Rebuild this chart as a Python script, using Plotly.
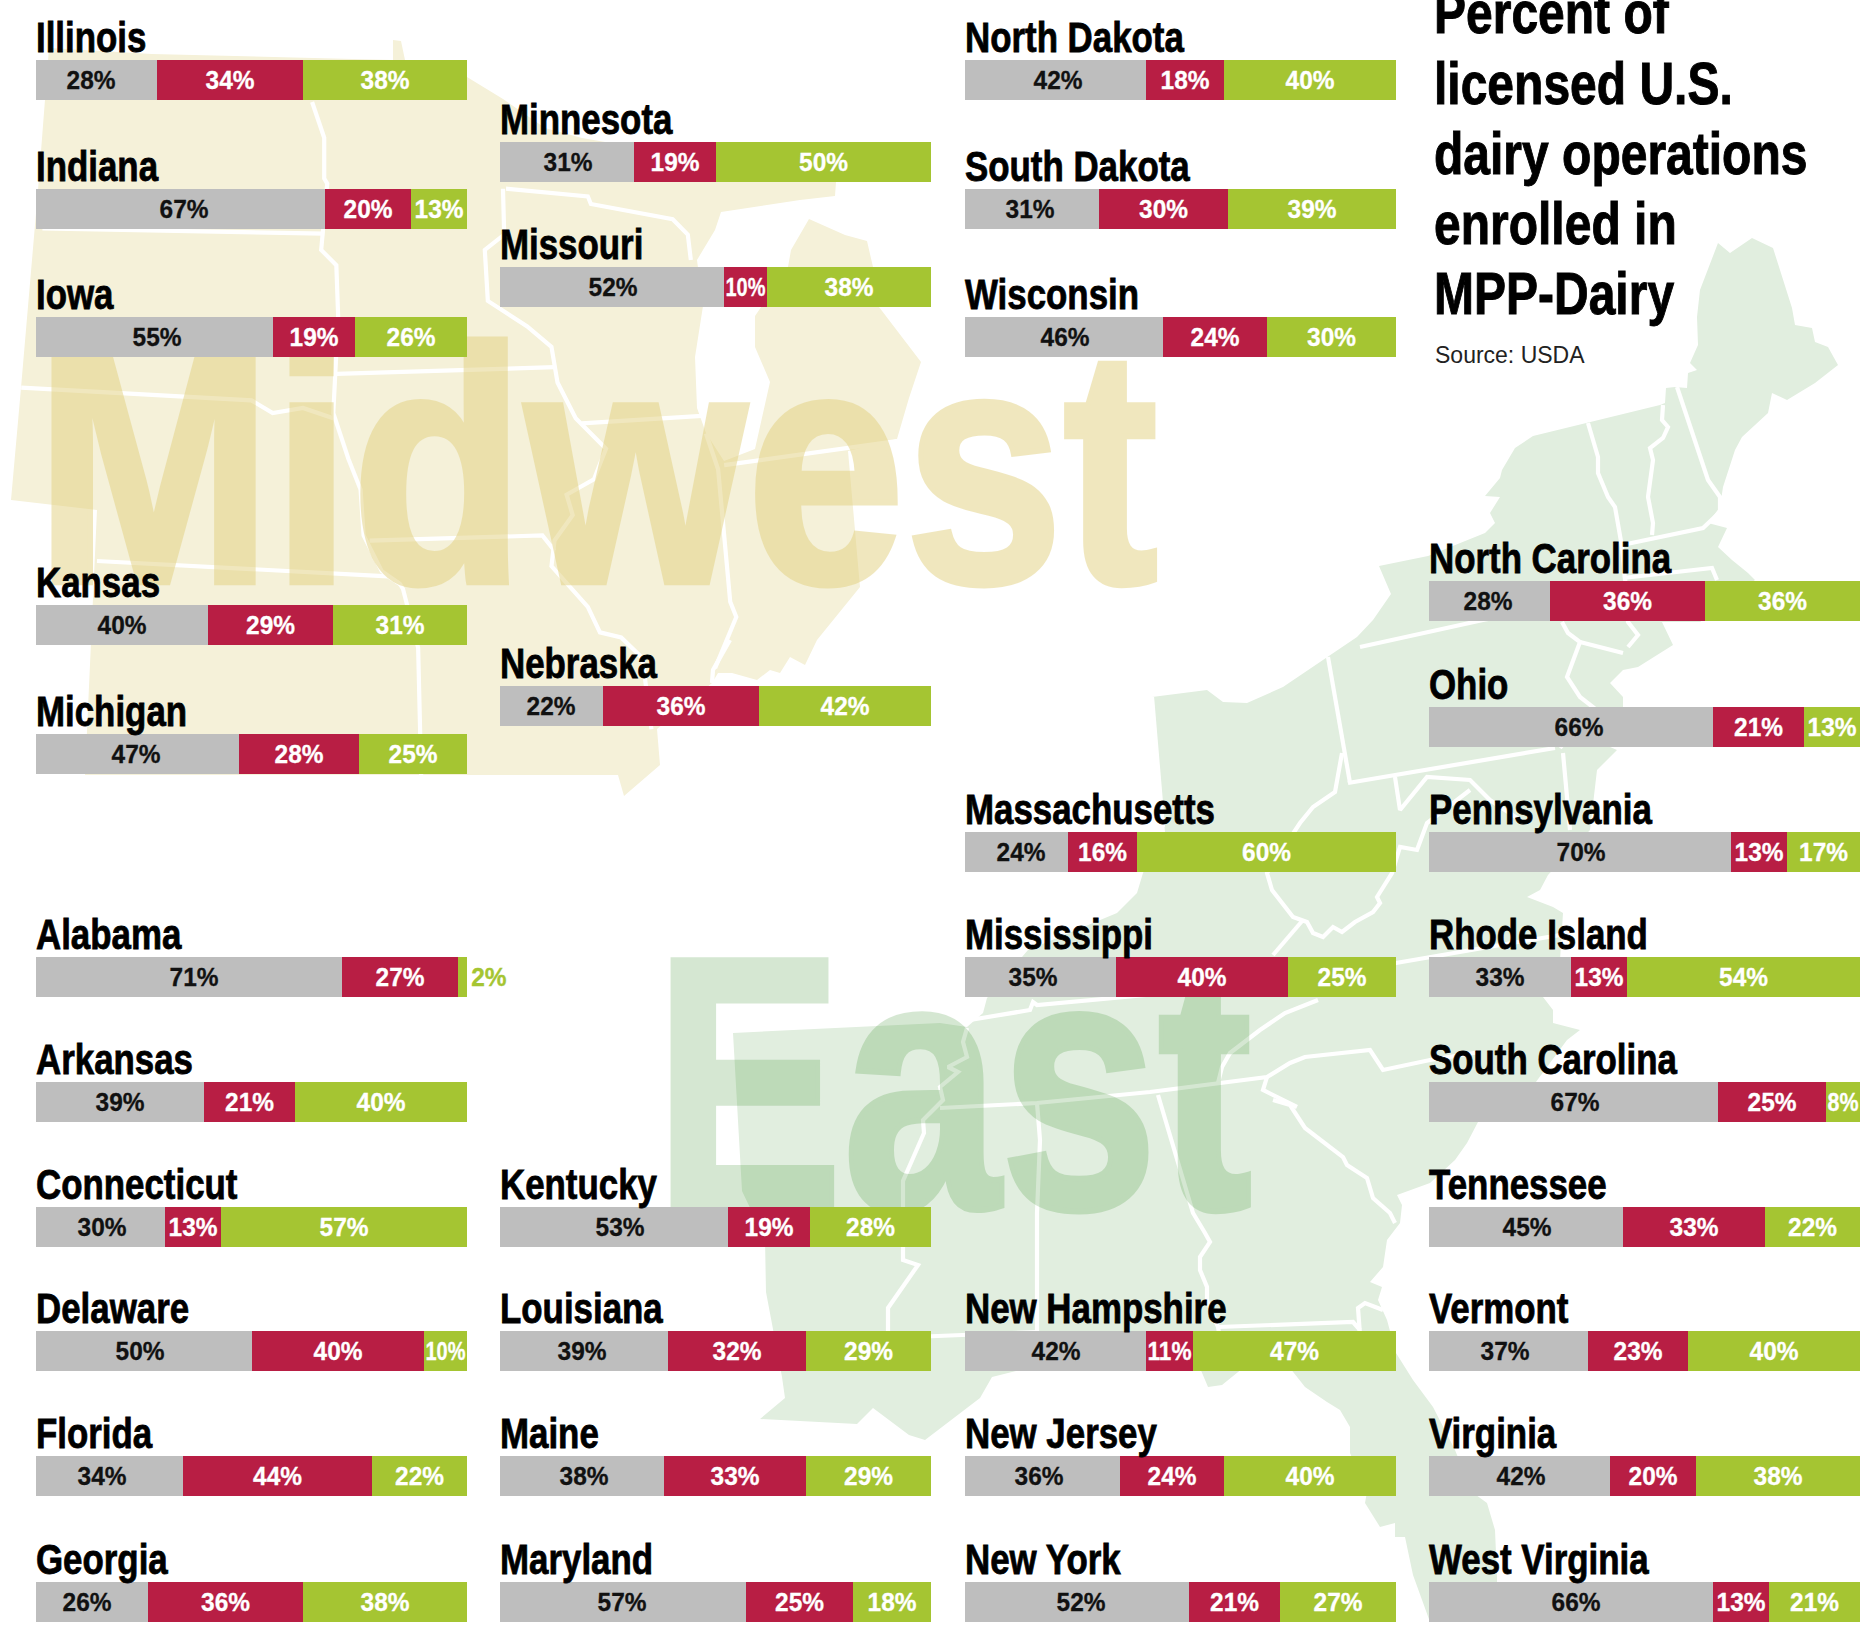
import plotly.graph_objects as go

W, H = 1875, 1629
SANS = "Liberation Sans"

# ---- data -------------------------------------------------------------
states = ["Illinois", "Indiana", "Iowa", "Kansas", "Michigan",
          "Minnesota", "Missouri", "Nebraska",
          "North Dakota", "South Dakota", "Wisconsin",
          "Alabama", "Arkansas", "Connecticut", "Delaware", "Florida", "Georgia",
          "Kentucky", "Louisiana", "Maine", "Maryland",
          "Massachusetts", "Mississippi", "New Hampshire", "New Jersey", "New York",
          "North Carolina", "Ohio", "Pennsylvania", "Rhode Island", "South Carolina",
          "Tennessee", "Vermont", "Virginia", "West Virginia"]
grey_share = [28, 67, 55, 40, 47,
              31, 52, 22,
              42, 31, 46,
              71, 39, 30, 50, 34, 26,
              53, 39, 38, 57,
              24, 35, 42, 36, 52,
              28, 66, 70, 33, 67,
              45, 37, 42, 66]
red_share = [34, 20, 19, 29, 28,
             19, 10, 36,
             18, 30, 24,
             27, 21, 13, 40, 44, 36,
             19, 32, 33, 25,
             16, 40, 11, 24, 21,
             36, 21, 13, 13, 25,
             33, 23, 20, 13]
green_share = [38, 13, 26, 31, 25,
               50, 38, 42,
               40, 39, 30,
               2, 40, 57, 10, 22, 38,
               28, 29, 29, 18,
               60, 25, 47, 40, 27,
               36, 13, 17, 54, 8,
               22, 40, 38, 21]
# Nebraska's bar is drawn a little off its printed figures in the source
drawn_override = {"Nebraska": (24, 36, 40)}
title_lines = ["Percent of", "licensed U.S.", "dairy operations", "enrolled in", "MPP-Dairy"]
source_note = "Source: USDA"

# ---- layout of the small bars (left pixel, top pixel) -------------------
COL = [36, 500, 965, 1429]
BAR_W, BAR_H = 431, 40
slots = [(0, 60), (0, 189), (0, 317), (0, 605), (0, 734),
         (1, 142), (1, 267), (1, 686),
         (2, 60), (2, 189), (2, 317),
         (0, 957), (0, 1082), (0, 1207), (0, 1331), (0, 1456), (0, 1582),
         (1, 1207), (1, 1331), (1, 1456), (1, 1582),
         (2, 832), (2, 957), (2, 1331), (2, 1456), (2, 1582),
         (3, 581), (3, 707), (3, 832), (3, 957), (3, 1082),
         (3, 1207), (3, 1331), (3, 1456), (3, 1582)]
# the grey figures sit off the centre of their segment in the source (pixels)
grey_label_dx = [-5, 4, 2, 0, -1,
                 1, 1, -1,
                 2, -2, 1,
                 5, 0, 1, -4, -7, -5,
                 6, -2, 2, -1,
                 4, -7, 0, -4, 4,
                 -1, 8, 1, 0, 2,
                 1, -4, 1, 5]

GREY, RED, GREEN = "#bebebe", "#b81e44", "#a5c532"
MW_FILL, EA_FILL = "#f5f1d9", "#e1eedf"
MW_WORD, EA_WORD = "rgb(227,209,127)", "rgb(50,140,35)"
NAME_SIZE, LABEL_SIZE, TITLE_SIZE = 42, 26, 60

# ---- backdrop map (decorative, traced in page pixels) -------------------
def zm(points):
    """Convert points read in the 1568-square zoom of the top-left crop."""
    return [(x * 0.606, y * 0.51) for x, y in points]

midwest_outline = [(49, 48), (152, 54), (393, 60), (393, 40), (401, 41), (405, 60), (467, 77), (503, 99),
                   (545, 128), (582, 138), (836, 182), (835, 196), (800, 200), (721, 212), (715, 230),
                   (697, 260), (703, 306), (695, 357), (697, 408), (706, 433), (724, 461), (755, 449),
                   (770, 382), (755, 347), (755, 316), (788, 267), (791, 250), (809, 219), (845, 235),
                   (867, 241), (873, 267), (879, 307), (921, 362), (909, 398), (897, 439), (848, 451),
                   (860, 587), (817, 640), (805, 665), (790, 657), (780, 673), (770, 670), (757, 680),
                   (732, 673), (718, 673), (712, 683), (657, 729), (660, 765), (624, 796), (618, 775),
                   (470, 775), (85, 775), (97, 510), (11, 500), (21, 388), (38, 190), (49, 48)]
midwest_lines = [zm(p) for p in [
    [(70, 448), (535, 458)],
    [(35, 760), (415, 785), (450, 810), (500, 800), (550, 820)],
    [(160, 1100), (640, 1130), (660, 1145)],
    [(515, 200), (535, 270), (535, 350), (540, 360), (530, 490), (555, 520), (558, 620), (555, 700),
     (550, 810), (575, 900), (595, 960), (600, 1050), (630, 1120), (660, 1145), (665, 1155), (690, 1270),
     (695, 1520)],
    [(555, 733), (915, 720)],
    [(610, 1060), (895, 1050), (915, 1080)],
    [(830, 370), (832, 460), (800, 490), (805, 590), (870, 640), (910, 680), (920, 750), (950, 820),
     (1000, 880), (980, 940), (935, 970), (945, 1010), (915, 1060), (910, 1110), (970, 1190), (990, 1240),
     (1025, 1250), (1060, 1290), (1075, 1430)],
    [(835, 370), (970, 385), (975, 400), (1110, 430), (1135, 460), (1140, 510)],
    [(960, 830), (1165, 815)],
    [(1165, 850), (1185, 920), (1205, 1180), (1215, 1210), (1180, 1310)],
    [(1195, 912), (1480, 865)],
]]
midwest_lines.append([(730, 640), (713, 670), (712, 683)])

east_outline = [(1152, 697), (1207, 690), (1223, 702), (1247, 703), (1283, 687), (1327, 657), (1357, 637),
                (1373, 620), (1391, 594), (1379, 566), (1428, 556), (1485, 533), (1495, 523), (1490, 513),
                (1500, 497), (1485, 496), (1500, 478), (1502, 470), (1515, 448), (1533, 436), (1660, 405),
                (1665, 403), (1666, 388), (1675, 387), (1687, 388), (1688, 373), (1697, 370), (1690, 363),
                (1698, 345), (1697, 317), (1700, 290), (1718, 243), (1730, 253), (1752, 238), (1773, 248),
                (1792, 308), (1795, 325), (1812, 328), (1815, 342), (1828, 347), (1838, 365), (1815, 383),
                (1787, 400), (1772, 393), (1768, 413), (1742, 437), (1735, 450), (1723, 487), (1720, 507),
                (1708, 523), (1727, 528), (1718, 547), (1732, 560), (1748, 573), (1755, 580), (1700, 622),
                (1662, 622), (1673, 645), (1638, 667), (1623, 670), (1610, 683), (1623, 697), (1623, 707),
                (1610, 747), (1617, 750), (1597, 770), (1590, 830), (1548, 875), (1540, 890), (1527, 897),
                (1553, 907), (1563, 913), (1560, 960), (1543, 997), (1553, 1010), (1553, 1023), (1580, 1030),
                (1567, 1040), (1530, 1090), (1478, 1122), (1467, 1143), (1455, 1160), (1430, 1183),
                (1397, 1195), (1402, 1205), (1400, 1223), (1387, 1240), (1383, 1267), (1370, 1282),
                (1382, 1287), (1378, 1300), (1387, 1320), (1396, 1353), (1413, 1380), (1433, 1407),
                (1455, 1450), (1472, 1492), (1487, 1503), (1495, 1530), (1497, 1577), (1497, 1622),
                (1430, 1622), (1413, 1575), (1405, 1537), (1395, 1537), (1395, 1523), (1380, 1527),
                (1365, 1503), (1367, 1492), (1350, 1453), (1350, 1427), (1340, 1410), (1327, 1402),
                (1305, 1387), (1290, 1368), (1243, 1368), (1222, 1385), (1208, 1387), (1200, 1368),
                (1100, 1365), (1040, 1365), (992, 1377), (980, 1398), (925, 1440), (909, 1435), (873, 1408),
                (857, 1424), (760, 1419), (785, 1398), (782, 1377), (766, 1292), (765, 1239), (742, 1191),
                (733, 1033), (933, 1023), (940, 1023), (967, 1027), (983, 1013), (987, 998), (1028, 950),
                (1117, 913), (1137, 893), (1143, 873), (1165, 832), (1152, 697)]
east_lines = [
    [(1328, 657), (1350, 783)],
    [(1348, 783), (1555, 748)],
    [(1342, 753), (1335, 792), (1313, 807), (1300, 823), (1267, 873), (1272, 890), (1293, 917), (1307, 922),
     (1313, 933), (1323, 937), (1333, 927), (1342, 932), (1355, 922), (1373, 912), (1380, 903), (1377, 897),
     (1392, 873), (1400, 847), (1417, 850), (1427, 823), (1470, 790)],
    [(1395, 777), (1400, 810), (1427, 777), (1470, 780), (1490, 800), (1520, 820)],
    [(1152, 697), (1163, 827)],
    [(1273, 955), (1303, 920)],
    [(1290, 990), (1396, 963), (1483, 948), (1560, 935)],
    [(1318, 1000), (1285, 1013), (1260, 1030), (1230, 1053), (1222, 1067), (1218, 1083)],
    [(940, 1108), (1037, 1103), (1150, 1092), (1267, 1077), (1290, 1063), (1305, 1057), (1370, 1050),
     (1383, 1070), (1430, 1060), (1480, 1052)],
    [(1267, 1077), (1263, 1090), (1297, 1107)],
    [(1273, 1100), (1290, 1105), (1305, 1128), (1327, 1145), (1343, 1157), (1347, 1165), (1367, 1178),
     (1373, 1198), (1390, 1213), (1395, 1223)],
    [(1037, 1103), (1040, 1140), (1037, 1213), (1037, 1335)],
    [(1158, 1095), (1193, 1213), (1205, 1233), (1210, 1242), (1200, 1257), (1200, 1270), (1207, 1287),
     (1207, 1300), (1218, 1327), (1225, 1368)],
    [(1218, 1327), (1353, 1322), (1360, 1330)],
    [(1360, 1335), (1358, 1308), (1365, 1303), (1383, 1310)],
    [(888, 1338), (1037, 1332)],
    [(970, 1020), (1030, 1010), (1033, 1002), (1037, 1005), (1200, 990), (1290, 985)],
    [(967, 1028), (963, 1042), (967, 1057), (948, 1067), (958, 1072), (940, 1087), (943, 1100), (930, 1113),
     (923, 1120), (924, 1133), (903, 1181), (903, 1260), (918, 1265), (888, 1308), (888, 1345)],
    [(1360, 647), (1483, 620), (1562, 605)],
    [(1562, 622), (1568, 633), (1580, 642), (1567, 677), (1580, 697), (1593, 707), (1575, 730), (1560, 748)],
    [(1580, 642), (1623, 653)],
    [(1625, 577), (1628, 622), (1638, 635), (1628, 647)],
    [(1588, 423), (1598, 457), (1598, 473), (1608, 497), (1615, 507), (1622, 547), (1625, 580)],
    [(1663, 405), (1662, 420), (1668, 427), (1663, 438), (1650, 448), (1653, 460), (1648, 497), (1653, 523),
     (1652, 535)],
    [(1677, 387), (1708, 480), (1720, 497), (1720, 512)],
    [(1622, 545), (1703, 528), (1720, 512)],
    [(1623, 578), (1712, 568), (1717, 580)],
    [(1563, 753), (1570, 830)],
]

fig = go.Figure()
bg = dict(xaxis="x", yaxis="y", hoverinfo="skip", showlegend=False)


def add_map(outline, lines, fill):
    fig.add_trace(go.Scatter(x=[p[0] for p in outline], y=[p[1] for p in outline], mode="lines",
                             fill="toself", fillcolor=fill, line=dict(width=0, color=fill), **bg))
    for seg in lines:
        fig.add_trace(go.Scatter(x=[p[0] for p in seg], y=[p[1] for p in seg], mode="lines",
                                 line=dict(color="white", width=4.2), **bg))


add_map(midwest_outline, midwest_lines, MW_FILL)
add_map(east_outline, east_lines, EA_FILL)


def big_word(word, x, y, size, colour, alpha):
    fig.add_trace(go.Scatter(x=[x], y=[y], mode="text", text=[word], textposition="top right", opacity=alpha,
                             textfont=dict(family=SANS, size=size, color=colour, weight="bold"),
                             cliponaxis=False, **bg))


big_word("Midwest", 35, 666, 335, MW_WORD, 0.5)
big_word("East", 654, 1298, 360, EA_WORD, 0.2)

layout = dict(
    width=W, height=H, margin=dict(l=0, r=0, t=0, b=0), paper_bgcolor="white", plot_bgcolor="rgba(0,0,0,0)",
    barmode="stack", bargap=0, showlegend=False, hovermode=False,
    xaxis=dict(domain=[0, 1], range=[0, W], visible=False, fixedrange=True),
    yaxis=dict(domain=[0, 1], range=[H, 0], visible=False, fixedrange=True),
)

annotations = []
for i, state in enumerate(states):
    n = i + 2
    col, top = slots[i]
    left = COL[col]
    layout[f"xaxis{n}"] = dict(domain=[left / W, (left + BAR_W) / W], range=[0, 100], visible=False,
                               anchor=f"y{n}", fixedrange=True)
    layout[f"yaxis{n}"] = dict(domain=[1 - (top + BAR_H) / H, 1 - top / H], range=[-0.5, 0.5], visible=False,
                               anchor=f"x{n}", fixedrange=True)
    printed = (grey_share[i], red_share[i], green_share[i])
    drawn = drawn_override.get(state, printed)
    inks = [(GREY, "#111111"), (RED, "white"), (GREEN, "white")]
    for k, (value, width, (fill, ink)) in enumerate(zip(printed, drawn, inks)):
        tiny = value < 5
        is_grey = k == 0
        fig.add_trace(go.Bar(
            x=[width], y=[0], orientation="h", marker=dict(color=fill, line=dict(width=0)),
            xaxis=f"x{n}", yaxis=f"y{n}", width=1,
            text=None if is_grey else [f"{value}%"],
            textposition="outside" if tiny else "inside", insidetextanchor="middle",
            textangle=0, constraintext="none", cliponaxis=False,
            textfont=dict(family=SANS, size=LABEL_SIZE, color=GREEN if tiny else ink, weight="bold"),
            hoverinfo="skip", showlegend=False))
    annotations.append(dict(text=f"{printed[0]}%", x=drawn[0] / 2 + grey_label_dx[i] * 100 / BAR_W, y=0,
                            xref=f"x{n}", yref=f"y{n}", xanchor="center", yanchor="middle", showarrow=False,
                            font=dict(family=SANS, size=LABEL_SIZE, color="#111111", weight="bold")))
    annotations.append(dict(text=state, x=left - 2, y=top + 3, xref="x", yref="y", xanchor="left", yanchor="bottom",
                            align="left", showarrow=False,
                            font=dict(family=SANS, size=NAME_SIZE, color="#000", weight="bold")))

for line, base in zip(title_lines, [33, 104, 174, 244, 314]):
    annotations.append(dict(text=line, x=1432, y=base + 15, xref="x", yref="y", xanchor="left", yanchor="bottom",
                            align="left", showarrow=False,
                            font=dict(family=SANS, size=TITLE_SIZE, color="#000", weight="bold")))
annotations.append(dict(text=source_note, x=1433, y=370, xref="x", yref="y", xanchor="left", yanchor="bottom",
                        align="left", showarrow=False, font=dict(family=SANS, size=23, color="#222")))

layout["annotations"] = annotations
fig.update_layout(**layout)

# No condensed face is installed, so the type is narrowed (and weighted) on the page itself
CONDENSE = """
document.body.style.margin='0';document.body.style.overflow='hidden';
(function(){
 function run(){
  document.querySelectorAll('svg text').forEach(function(t){
   t.removeAttribute('textLength');t.removeAttribute('lengthAdjust');
   var cs=getComputedStyle(t),fs=parseFloat(cs.fontSize),s=1,n=t.getComputedTextLength(),sw=0;
   if(!n)return;
   var target=null,word=t.textContent;
   if(word==='Midwest'){target=1123;sw=6;}
   else if(word==='East'){target=598;sw=6;}
   else if(fs>=50&&fs<100){s=0.80;sw=1;}
   else if(fs>=40&&fs<50){s=0.83;sw=0.8;}
   else if(fs>=24&&fs<30){
    s=0.94;sw=0.3;
    var pt=t.closest('.point'),p=pt&&pt.querySelector('path');
    if(p){var w=p.getBBox().width;if(w>15&&n*s>w-3)s=(w-3)/n;}
   }
   if(target===null)target=n*s;
   if(Math.abs(target-n)>0.5){t.setAttribute('textLength',target);t.setAttribute('lengthAdjust','spacingAndGlyphs');}
   if(sw){t.style.stroke=cs.fill;t.style.strokeWidth=sw+'px';t.style.strokeOpacity=cs.fillOpacity;}
  });
 }
 run();setTimeout(run,150);
})();
"""
fig.write_html("out.html", config=dict(displayModeBar=False), post_script=CONDENSE)
